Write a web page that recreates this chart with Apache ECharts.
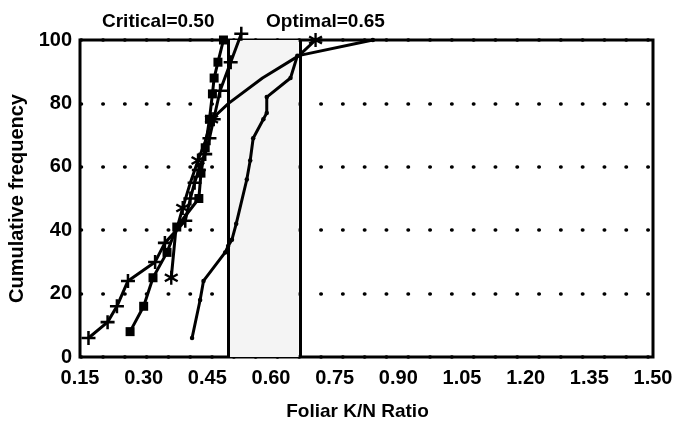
<!DOCTYPE html>
<html><head><meta charset="utf-8">
<script src="https://cdn.jsdelivr.net/npm/echarts@6/dist/echarts.min.js"></script>
<style>html,body{margin:0;padding:0;background:#fff}#c{width:679px;height:423px}</style>
</head><body><div id="c"></div>
<script>
// ---- data ----
var xTicks = [0.15, 0.30, 0.45, 0.60, 0.75, 0.90, 1.05, 1.20, 1.35, 1.50];
var yTicks = [0, 20, 40, 60, 80, 100];
var plusX = [0.17, 0.215, 0.237, 0.263, 0.327, 0.35, 0.398, 0.41, 0.42, 0.43, 0.445, 0.455, 0.465, 0.48, 0.505, 0.53];
var plusY = [6, 11, 16, 24, 30, 36, 43, 50, 55, 59, 64, 69, 75, 84, 93, 102];
var squareX = [0.268, 0.30, 0.322, 0.355, 0.378, 0.43, 0.435, 0.445, 0.455, 0.462, 0.466, 0.475, 0.488];
var squareY = [8, 16, 25, 33, 41, 50, 58, 66, 75, 83, 88, 93, 100];
var starX = [0.365, 0.375, 0.392, 0.41, 0.428, 0.445, 0.46, 0.50, 0.58, 0.665, 0.705];
var starY = [25, 39, 47, 55, 62, 68, 75, 80, 88, 95, 100];
var starMarked = [1, 0, 1, 0, 1, 0, 1, 0, 0, 0, 1];
var dotX = [0.414, 0.433, 0.441, 0.492, 0.499, 0.508, 0.518, 0.543, 0.551, 0.558, 0.582, 0.59, 0.59, 0.646, 0.662, 0.84];
var dotY = [6, 18, 24, 33, 35, 37, 42, 56, 62, 69, 75, 77, 82, 88, 95, 100];
var critical = 0.50, optimal = 0.665;
var criticalLabel = 'Critical=0.50', optimalLabel = 'Optimal=0.65';

function pairs(xs, ys) { return xs.map(function (x, i) { return [x, ys[i]]; }); }

var plusPath = 'path://M4.1,0H5.9V4.1H10V5.9H5.9V10H4.1V5.9H0V4.1H4.1Z';
var starPath = 'path://M4.2,0L5.8,0L5.8,10L4.2,10Z M0.27,3.19L1.07,1.81L9.73,6.81L8.93,8.19Z M1.07,8.19L0.27,6.81L8.93,1.81L9.73,3.19Z';

var FONT = '"Liberation Sans", Arial, sans-serif';
var base = { type: 'line', lineStyle: { color: '#000', width: 3 }, itemStyle: { color: '#000' }, z: 5, clip: false };

var chart = echarts.init(document.getElementById('c'), null, { renderer: 'canvas' });
chart.setOption({
  animation: false,
  backgroundColor: '#fff',
  grid: { left: 80, right: 26, top: 40, bottom: 66, show: true, borderColor: '#000', borderWidth: 3, backgroundColor: 'transparent',
    containLabel: false, outerBoundsMode: 'none' },
  graphic: [
    { type: 'text', left: 102, top: 12, style: { text: criticalLabel, font: 'bold 19px ' + FONT, fill: '#000' } },
    { type: 'text', left: 266, top: 12, style: { text: optimalLabel, font: 'bold 19px ' + FONT, fill: '#000' } }
  ],
  xAxis: {
    type: 'value', min: 0.15, max: 1.5, interval: 0.15,
    name: 'Foliar K/N Ratio', nameLocation: 'middle', nameGap: 45,
    nameTextStyle: { fontFamily: FONT, fontWeight: 'bold', fontSize: 19, color: '#000', padding: [0, 18, 0, 0] },
    axisLine: { show: false }, axisTick: { show: false }, splitLine: { show: false },
    axisLabel: { fontFamily: FONT, fontWeight: 'bold', fontSize: 20, color: '#000', margin: 11,
      formatter: function (v) { return v.toFixed(2); } }
  },
  yAxis: {
    type: 'value', min: 0, max: 100, interval: 20,
    name: 'Cumulative frequency', nameLocation: 'middle', nameGap: 46,
    nameTextStyle: { fontFamily: FONT, fontWeight: 'bold', fontSize: 20, color: '#000' },
    axisLine: { show: false }, axisTick: { show: false },
    axisLabel: { fontFamily: FONT, fontWeight: 'bold', fontSize: 20, color: '#000', margin: 8 },
    splitLine: { show: true, lineStyle: { color: '#000', width: 3.5, type: [0.5, 21.3], cap: 'round', dashOffset: -1 } }
  },
  series: [
    Object.assign({}, base, {
      name: 'dots', data: pairs(dotX, dotY), symbol: 'circle', symbolSize: 4.5,
      markLine: {
        silent: true, symbol: 'none', label: { show: false },
        lineStyle: { color: '#000', width: 3, type: 'solid' },
        data: [{ xAxis: critical }, { xAxis: optimal }]
      },
      markArea: {
        silent: true, itemStyle: { color: '#f4f4f4' },
        data: [[{ xAxis: critical, yAxis: 0 }, { xAxis: optimal, yAxis: 100 }]]
      }
    }),
    Object.assign({}, base, { name: 'plus', data: pairs(plusX, plusY), symbol: plusPath, symbolSize: 14 }),
    Object.assign({}, base, { name: 'square', data: pairs(squareX, squareY), symbol: 'rect', symbolSize: 9 }),
    Object.assign({}, base, {
      name: 'star', data: pairs(starX, starY),
      symbol: function (v, p) { return starMarked[p.dataIndex] ? starPath : 'none'; }, symbolSize: 14,
      showAllSymbol: true
    })
  ]
});
</script></body></html>
